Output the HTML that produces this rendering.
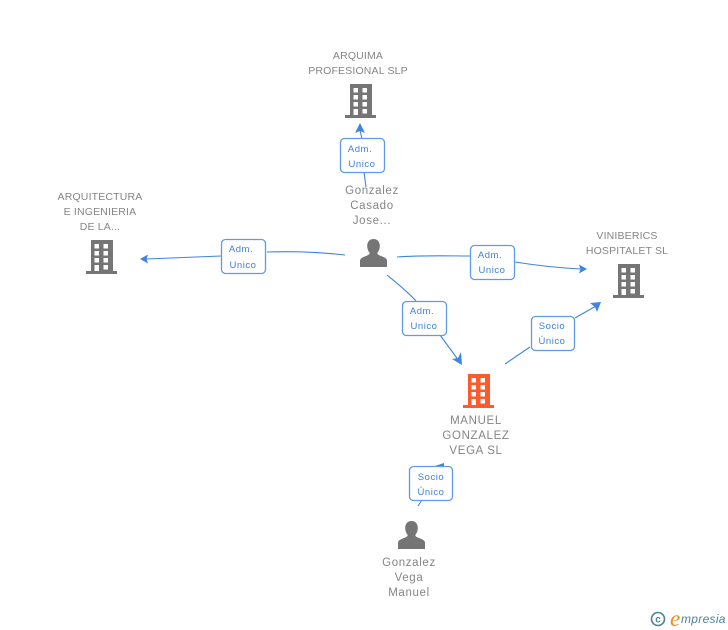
<!DOCTYPE html>
<html><head><meta charset="utf-8"><style>
html,body{margin:0;padding:0;background:#fff;width:728px;height:630px;overflow:hidden}
svg{display:block}
text{font-family:"Liberation Sans",sans-serif}
.n{font-size:10.5px;fill:#858585;text-anchor:middle;letter-spacing:.17px}
.p{font-size:11.5px;fill:#858585;text-anchor:middle;letter-spacing:.65px}
.l{font-size:9.5px;fill:#3f80d8;text-anchor:middle;letter-spacing:.55px}
.b{fill:#fff;stroke:#5f9be6;stroke-width:1.3}
.c{fill:none;stroke:#3f84e0;stroke-width:1.1}
.a{fill:#3f84e0}
</style></head><body>
<svg width="728" height="630" viewBox="0 0 728 630" xmlns="http://www.w3.org/2000/svg">
<defs>
<g id="bld"><path fill-rule="evenodd" d="M5 0H27V31H31V34H0V31H5ZM8.500 4V8.500H13V4ZM17.500 4V8.500H22V4ZM8.500 11V15.500H13V11ZM17.500 11V15.500H22V11ZM8.500 18V22.500H13V18ZM17.500 18V22.500H22V18ZM8.500 25V31H13V25ZM17.500 25V29.500H22V25Z"/></g>
<g id="per"><path d="M13.500 0C17.500 0 19.800 3 19.800 7C19.800 10 18.500 12.500 17.300 14C17.500 15.500 18.500 16 21 17C25 18.500 27 19.500 27 22V28H0V22C0 19.500 2 18.500 6 17C8.500 16 9.500 15.500 9.700 14C8.500 12.500 7.200 10 7.200 7C7.200 3 9.500 0 13.500 0Z"/></g>
</defs>
<path class="c" d="M366 187L364 172M362 139L360 130"/>
<path class="a" d="M360 123L365 133L360 131L355 133Z"/>
<path class="c" d="M345 255C320 252 295 251 267 252M221 256L146 259"/>
<path class="a" d="M140 259L148 254.500L146.500 259L148 263.500Z"/>
<path class="c" d="M397 257C425 255 447 256 470 256M515 262C540 266 560 268 581 269"/>
<path class="a" d="M587 269L579 264.500L580.500 269L579 273.500Z"/>
<path class="c" d="M387 275C398 284 407 291 416 301M440 335L459 361"/>
<path class="a" d="M462 365L452 359L458 358L461 352Z"/>
<path class="c" d="M505 364L530 347M575 318L596 306"/>
<path class="a" d="M601 302L590 303L595 307L597 312Z"/>
<path class="c" d="M418 506L422 500"/>
<path class="a" d="M435 466L444 463V467Z"/>
<rect class="b" x="340.500" y="138.500" width="44" height="34" rx="4"/>
<rect class="b" x="221.500" y="239.500" width="44" height="34" rx="4"/>
<rect class="b" x="470.500" y="245.500" width="44" height="34" rx="4"/>
<rect class="b" x="402.500" y="301.500" width="44" height="34" rx="4"/>
<rect class="b" x="531.500" y="316.500" width="43" height="34" rx="4"/>
<rect class="b" x="409.500" y="466.500" width="43" height="34" rx="4"/>
<text class="l" x="360" y="152">Adm.</text><text class="l" x="362" y="167">Unico</text>
<text class="l" x="241" y="252">Adm.</text><text class="l" x="243" y="268">Unico</text>
<text class="l" x="490" y="258">Adm.</text><text class="l" x="492" y="273">Unico</text>
<text class="l" x="422" y="314">Adm.</text><text class="l" x="424" y="329">Unico</text>
<text class="l" x="552" y="329">Socio</text><text class="l" x="552" y="344">Único</text>
<text class="l" x="431" y="480">Socio</text><text class="l" x="431" y="495">Único</text>
<use href="#bld" x="345" y="84" fill="#757575"/>
<use href="#bld" x="86" y="240" fill="#757575"/>
<use href="#bld" x="613" y="264" fill="#757575"/>
<use href="#bld" x="463" y="374" fill="#ff5a2c"/>
<use href="#per" x="360" y="239" fill="#757575"/>
<use href="#per" x="398" y="521" fill="#757575"/>
<text class="n" x="358" y="59">ARQUIMA</text><text class="n" x="358" y="74">PROFESIONAL SLP</text>
<text class="n" x="100" y="200">ARQUITECTURA</text><text class="n" x="100" y="215">E INGENIERIA</text><text class="n" x="100" y="230">DE LA...</text>
<text class="n" x="627" y="239">VINIBERICS</text><text class="n" x="627" y="254">HOSPITALET SL</text>
<text class="p" x="372" y="194">Gonzalez</text><text class="p" x="372" y="209">Casado</text><text class="p" x="372" y="224">Jose...</text>
<text class="p" x="476" y="424">MANUEL</text><text class="p" x="476" y="439">GONZALEZ</text><text class="p" x="476" y="454">VEGA SL</text>
<text class="p" x="409" y="566">Gonzalez</text><text class="p" x="409" y="581">Vega</text><text class="p" x="409" y="596">Manuel</text>
<circle cx="658" cy="619" r="6.500" fill="none" stroke="#4d8296" stroke-width="1.600"/>
<text x="658" y="622.500" font-size="10" fill="#4d8296" text-anchor="middle" style="font-weight:bold">c</text>
<text x="670" y="626" font-size="23" fill="#f08a1d" style="font-family:'Liberation Serif',serif;font-style:italic">e</text>
<text x="681" y="623" font-size="12" fill="#4d8296" style="font-style:italic;letter-spacing:.3px">mpresia</text>
</svg>
</body></html>
